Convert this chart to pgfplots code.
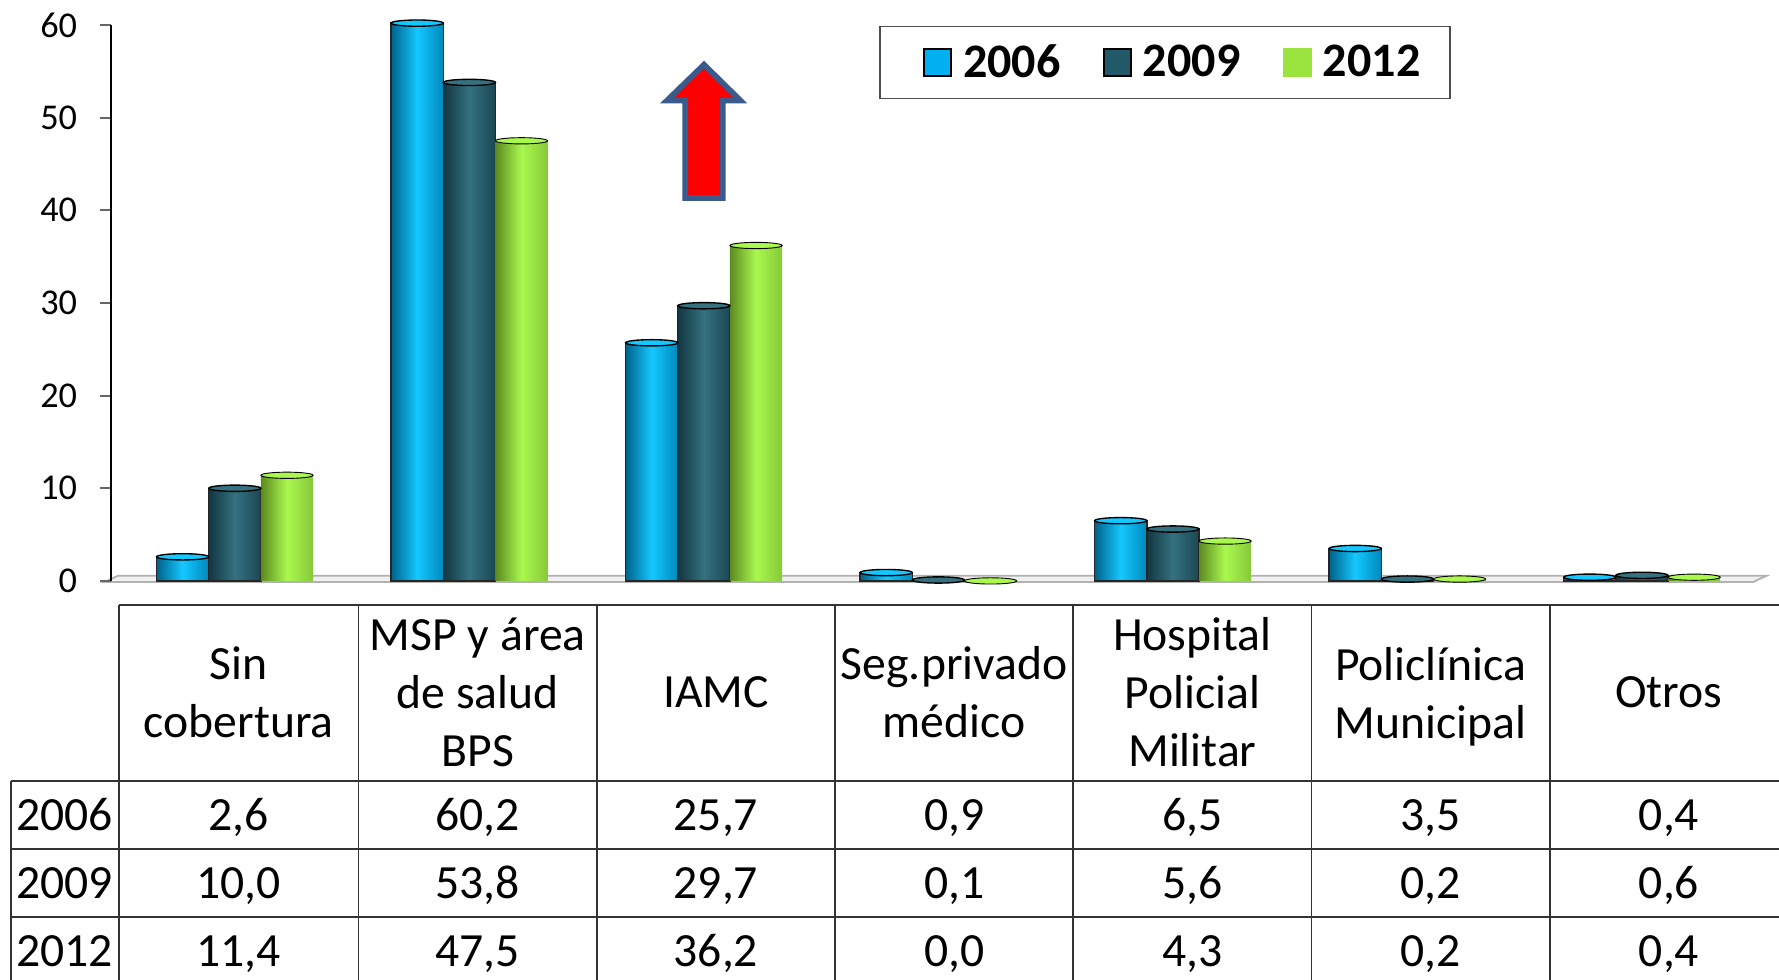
\documentclass[border=0pt]{standalone}
\usepackage{pgfplots}
\pgfplotsset{compat=1.18}
\usepackage{fontspec}
\setmainfont{Carlito}
\definecolor{cA}{HTML}{00B0F0}
\definecolor{cAd}{HTML}{00628C}
\definecolor{cAl}{HTML}{14C8FF}
\definecolor{cAr}{HTML}{0088BC}
\definecolor{cB}{HTML}{215968}
\definecolor{cBd}{HTML}{133642}
\definecolor{cBl}{HTML}{35717F}
\definecolor{cBr}{HTML}{1B4654}
\definecolor{cC}{HTML}{9BE33F}
\definecolor{cCd}{HTML}{5C8A20}
\definecolor{cCl}{HTML}{AAF84E}
\definecolor{cCr}{HTML}{86C83A}
\definecolor{arrowblue}{HTML}{3B5B8C}
\newcommand\tfont{\fontsize{21}{25.5}\selectfont}
\pgfplotsset{
 sA/.style={ybar, bar width=23pt, bar shift=-23pt, forget plot, draw=black!85, line width=0.6pt,
   left color=cAd, right color=cAr, middle color=cAl},
 sB/.style={ybar, bar width=23pt, bar shift=0pt, forget plot, draw=black!85, line width=0.6pt,
   left color=cBd, right color=cBr, middle color=cBl},
 sC/.style={ybar, bar width=23pt, bar shift=23pt, forget plot, draw=none,
   left color=cCd, right color=cCr, middle color=cCl},
}
\newcommand\barA[2]{\addplot[sA] coordinates {(#1,#2)};}
\newcommand\barB[2]{\addplot[sB] coordinates {(#1,#2)};}
\newcommand\barC[2]{\addplot[sC] coordinates {(#1,#2)};}
\begin{document}
\begin{tikzpicture}
\useasboundingbox (0,0) rectangle (784pt,-431.5pt);
\clip (0,0) rectangle (784pt,-431.5pt);
\begin{scope}[x=0.5pt,y=-0.5pt]
\filldraw[fill=gray!12, draw=gray!60, line width=0.8pt] (92,513) -- (1545,513) -- (1557,507.5) -- (104,507.5) -- cycle;
\end{scope}
\begin{axis}[
 at={(49pt,-256pt)}, anchor=south west,
 scale only axis, width=726pt, height=245pt,
 xmin=-0.5273, xmax=6.4974, ymin=0, ymax=60, clip=false,
 axis y line*=left, axis x line=none,
 ytick={0,10,...,60},
 tick align=outside, major tick length=5pt,
 ytick style={draw=black!60, line width=0.8pt},
 y axis line style={black, line width=1pt},
 yticklabel style={font=\fontsize{16}{18}\selectfont, xshift=-6.5pt},
 /pgf/number format/assume math mode=true,
 legend columns=3,
 legend style={at={(0.4663,0.998)}, anchor=north west, draw=black!70, line width=0.6pt,
   font=\fontsize{21.2}{24}\selectfont\bfseries, inner xsep=11pt, inner ysep=5.75pt,
   /tikz/every even column/.append style={column sep=8.7pt}},
]
% 2006
\barA{0}{2.6}\barA{1}{60.2}\barA{2}{25.7}\barA{3}{0.9}\barA{4}{6.5}\barA{5}{3.5}\barA{6}{0.4}
% 2009
\barB{0}{10.0}\barB{1}{53.8}\barB{2}{29.7}\barB{3}{0.1}\barB{4}{5.6}\barB{5}{0.2}\barB{6}{0.6}
% 2012
\barC{0}{11.4}\barC{1}{47.5}\barC{2}{36.2}\barC{3}{0.0}\barC{4}{4.3}\barC{5}{0.2}\barC{6}{0.4}
% cylinder caps
\addplot[only marks, forget plot, mark=*, mark size=11.5pt,
  mark options={xshift=-23pt, yscale=0.12, fill=cAl, draw=black, line width=0.6pt}]
 coordinates {(0,2.6)(1,60.2)(2,25.7)(3,0.9)(4,6.5)(5,3.5)(6,0.4)};
\addplot[only marks, forget plot, mark=*, mark size=11.5pt,
  mark options={yscale=0.12, fill=cBl, draw=black, line width=0.6pt}]
 coordinates {(0,10.0)(1,53.8)(2,29.7)(3,0.1)(4,5.6)(5,0.2)(6,0.6)};
\addplot[only marks, forget plot, mark=*, mark size=11.5pt,
  mark options={xshift=23pt, yscale=0.12, fill=cCl, draw=none}]
 coordinates {(0,11.4)(1,47.5)(2,36.2)(3,0.0)(4,4.3)(5,0.2)(6,0.4)};
\addlegendimage{legend image code/.code={\path (-8pt,0pt) (15pt,0pt); \draw[fill=cA, draw=black, line width=0.7pt] (0pt,-6pt) rectangle (12pt,6pt);}}
\addlegendimage{legend image code/.code={\path (-8pt,0pt) (15pt,0pt); \draw[fill=cB, draw=black, line width=0.7pt] (0pt,-6pt) rectangle (12pt,6pt);}}
\addlegendimage{legend image code/.code={\path (-8pt,0pt) (15pt,0pt); \fill[cC] (0pt,-6pt) rectangle (12pt,6pt);}}
\legend{2006,2009,2012}
\end{axis}
\begin{scope}[x=0.5pt,y=-0.5pt]
% arrow
\filldraw[fill=red, draw=arrowblue, line width=2.5pt, line join=miter]
  (620.5,57) -- (652.5,88.5) -- (637,88.5) -- (637,174.5) -- (604,174.5) -- (604,88.5) -- (588,88.5) -- cycle;
% table rules
\begin{scope}[draw=black!80, line width=0.8pt]
\draw (105,533) -- (1600,533);
\foreach \yy in {688,748,808,868} \draw (10,\yy) -- (1600,\yy);
\draw (10,688) -- (10,900);
\foreach \xx in {105,316,526,736,946,1156,1366} \draw (\xx,533) -- (\xx,900);
\end{scope}
% header
\begin{scope}[every node/.style={font=\tfont, align=center, inner sep=0pt}]
\node at (210.5,610) {Sin\\cobertura};
\node at (421,610) {MSP y área\\de salud\\BPS};
\node at (631,610) {IAMC};
\node at (841,610) {Seg.privado\\médico};
\node at (1051,610) {Hospital\\Policial\\Militar};
\node at (1261,614) {Policlínica\\Municipal};
\node at (1471,610) {Otros};
\end{scope}
\begin{scope}[every node/.style={font=\tfont, anchor=base, inner sep=0pt}]
\node at (57,732) {2006};
\node at (57,792) {2009};
\node at (57,852) {2012};
\node at (210.5,732) {2,6};  \node at (210.5,792) {10,0}; \node at (210.5,852) {11,4};
\node at (421,732) {60,2};   \node at (421,792) {53,8};   \node at (421,852) {47,5};
\node at (631,732) {25,7};   \node at (631,792) {29,7};   \node at (631,852) {36,2};
\node at (841,732) {0,9};    \node at (841,792) {0,1};    \node at (841,852) {0,0};
\node at (1051,732) {6,5};   \node at (1051,792) {5,6};   \node at (1051,852) {4,3};
\node at (1261,732) {3,5};   \node at (1261,792) {0,2};   \node at (1261,852) {0,2};
\node at (1471,732) {0,4};   \node at (1471,792) {0,6};   \node at (1471,852) {0,4};
\end{scope}
\end{scope}
\end{tikzpicture}
\end{document}
